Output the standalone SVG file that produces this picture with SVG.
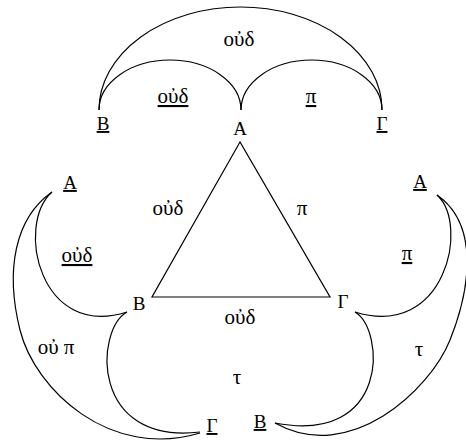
<svg xmlns="http://www.w3.org/2000/svg" width="466" height="447" viewBox="0 0 466 447">
<style>
text{font-family:"Liberation Serif","DejaVu Serif",serif;font-size:19px;fill:#000;text-anchor:middle}
.g{font-size:21px}
.u{text-decoration:underline}
.c{fill:none;stroke:#000;stroke-width:1.2}
</style>
<rect width="466" height="447" fill="#fff"/>
<g id="connectors">
<path class="c" d="M240,142 L152,297 L330,297 Z"/>
<path class="c" d="M99,110 A71 50 0 0 1 241,110"/>
<path class="c" d="M241,110 A70.5 50 0 0 1 382,110"/>
<path class="c" d="M99,110 A141.5 103 0 0 1 382,110"/>
<path class="c" d="M52,192 C15,225 40,340 127,312"/>
<path class="c" d="M52,192 C15,218 5,270 20,330 C35,390 110,460 200,433"/>
<path class="c" d="M127,312 C95,330 90,445 200,432"/>
<path class="c" d="M437,195 C470,225 445,340 355,312"/>
<path class="c" d="M437,195 C480,225 470,290 450,340 C430,390 350,465 275,423"/>
<path class="c" d="M355,312 C385,330 390,445 275,423"/>
</g>
<g id="triangle-labels">
<text id="tA" x="240" y="135">A</text>
<text id="tB" x="139" y="310">B</text>
<text id="tG" x="343" y="308">Γ</text>
<text class="g" x="168" y="215">οὐδ</text>
<text class="g" x="302" y="215">π</text>
<text class="g" x="240" y="324">οὐδ</text>
<text class="g" x="237" y="384">τ</text>
</g>
<g id="top">
<text class="u" x="103" y="130">B</text>
<text class="u" x="382" y="130">Γ</text>
<text class="g" x="239" y="46">οὐδ</text>
<text class="u g" x="173" y="103">οὐδ</text>
<text class="u g" x="311" y="103">π</text>
</g>
<g id="left">
<text class="u" x="70" y="189">A</text>
<text class="u g" x="77" y="262">οὐδ</text>
<text class="g" x="56" y="354">οὐ π</text>
<text class="u" x="212" y="432">Γ</text>
</g>
<g id="right">
<text class="u" x="420" y="188">A</text>
<text class="u g" x="407" y="260">π</text>
<text class="g" x="419" y="356">τ</text>
<text class="u" x="260" y="428">B</text>
</g>
</svg>
